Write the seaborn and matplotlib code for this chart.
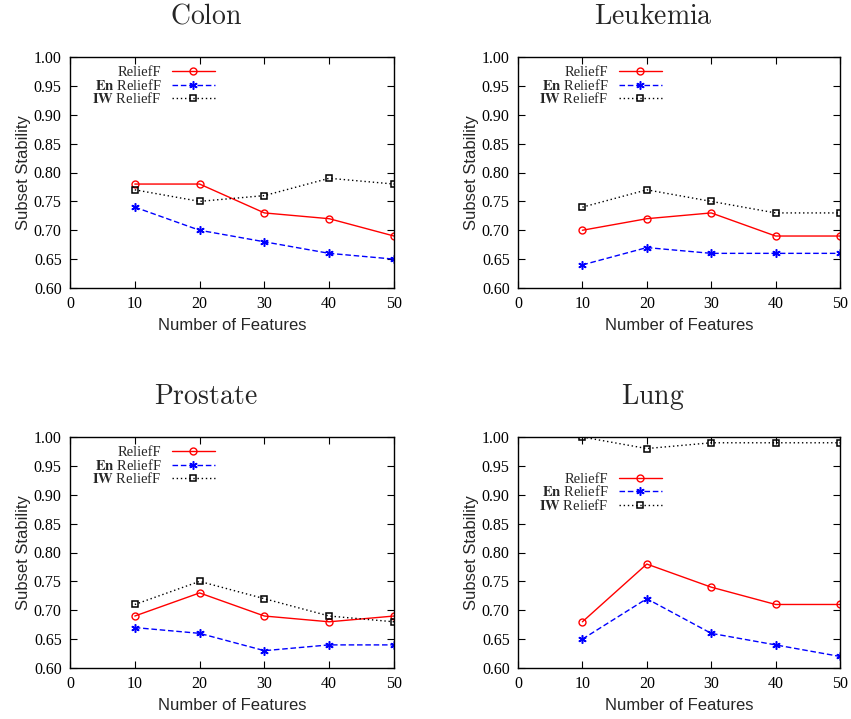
import numpy as np
import pandas as pd
import seaborn as sns
import matplotlib
matplotlib.use("Agg")
import matplotlib.pyplot as plt

features = [10, 20, 30, 40, 50]
datasets = ["Colon", "Leukemia", "Prostate", "Lung"]

colon_relieff = [0.78, 0.78, 0.73, 0.72, 0.69]
colon_en = [0.74, 0.70, 0.68, 0.66, 0.65]
colon_iw = [0.77, 0.75, 0.76, 0.79, 0.78]

leukemia_relieff = [0.70, 0.72, 0.73, 0.69, 0.69]
leukemia_en = [0.64, 0.67, 0.66, 0.66, 0.66]
leukemia_iw = [0.74, 0.77, 0.75, 0.73, 0.73]

prostate_relieff = [0.69, 0.73, 0.69, 0.68, 0.69]
prostate_en = [0.67, 0.66, 0.63, 0.64, 0.64]
prostate_iw = [0.71, 0.75, 0.72, 0.69, 0.68]

lung_relieff = [0.68, 0.78, 0.74, 0.71, 0.71]
lung_en = [0.65, 0.72, 0.66, 0.64, 0.62]
lung_iw = [1.00, 0.98, 0.99, 0.99, 0.99]

series_labels = ["ReliefF", r"$\mathbf{En}$ ReliefF", r"$\mathbf{IW}$ ReliefF"]
x_ticks = [0, 10, 20, 30, 40, 50]
y_ticks = [0.60, 0.65, 0.70, 0.75, 0.80, 0.85, 0.90, 0.95, 1.00]

all_values = {
    "Colon": [colon_relieff, colon_en, colon_iw],
    "Leukemia": [leukemia_relieff, leukemia_en, leukemia_iw],
    "Prostate": [prostate_relieff, prostate_en, prostate_iw],
    "Lung": [lung_relieff, lung_en, lung_iw],
}

sns.set_style("ticks")
plt.rcParams["font.family"] = ["Liberation Sans", "DejaVu Sans"]
plt.rcParams["mathtext.fontset"] = "stix"

SERIF = ["Liberation Serif", "DejaVu Serif"]

styles = [
    dict(color="#ff0000", linestyle="-", marker="o", markersize=5, markerfacecolor="none",
         markeredgecolor="#ff0000", markeredgewidth=1.0),
    dict(color="#0000ff", linestyle=(0, (4, 2)), marker=(6, 2, 0), markersize=6,
         markeredgecolor="#0000ff", markeredgewidth=1.1),
    dict(color="#000000", linestyle=(0, (1, 2)), marker="s", markersize=5, markerfacecolor="none",
         markeredgecolor="#000000", markeredgewidth=1.1),
]

fig = plt.figure(figsize=(8.51, 7.19), dpi=100)
W, H = 851, 719
positions = {
    "Colon": (70, 57, 324, 231),
    "Leukemia": (518, 57, 322, 231),
    "Prostate": (70, 437, 324, 231),
    "Lung": (518, 437, 322, 231),
}
title_pos = {
    "Colon": (206, 24),
    "Leukemia": (653, 24),
    "Prostate": (206, 404),
    "Lung": (653, 404),
}
legend_anchor = {
    "Colon": (0.48, 1.005),
    "Leukemia": (0.48, 1.005),
    "Prostate": (0.48, 1.005),
    "Lung": (0.48, 0.89),
}

for name in datasets:
    x0, y0, w, h = positions[name]
    ax = fig.add_axes([x0 / W, (H - y0 - h) / H, w / W, h / H])
    handles = []
    for vals, lab, st in zip(all_values[name], series_labels, styles):
        df = pd.DataFrame({"Features": features, "Stability": vals})
        sns.lineplot(data=df, x="Features", y="Stability", ax=ax, lw=1.0, **st)
        handles.append(ax.lines[-1])
    ax.set_xlim(0, 50)
    ax.set_ylim(0.60, 1.00)
    ax.set_xticks(x_ticks)
    ax.set_yticks(y_ticks)
    ax.set_xticklabels([str(v) for v in x_ticks])
    ax.set_yticklabels([f"{v:.2f}" for v in y_ticks])
    ax.tick_params(direction="in", top=True, right=True, length=5, width=0.8,
                   colors="black", pad=6, labelsize=11.5)
    for lbl in ax.get_xticklabels() + ax.get_yticklabels():
        lbl.set_fontfamily(SERIF)
    for sp in ax.spines.values():
        sp.set_visible(True)
        sp.set_linewidth(1.0)
        sp.set_color("black")
    ax.set_xlabel("Number of Features", fontsize=12, labelpad=4)
    ax.set_ylabel("Subset Stability", fontsize=12, labelpad=2)
    tx, ty = title_pos[name]
    fig.text(tx / W, 1 - ty / H, r"$\mathrm{" + name + "}$", ha="center", va="baseline",
             fontsize=20, math_fontfamily="cm")
    ax.legend(handles, series_labels, loc="upper right", bbox_to_anchor=legend_anchor[name],
              frameon=False, markerfirst=False, handlelength=3.0, handletextpad=0.7,
              labelspacing=-0.1, borderaxespad=0.3,
              prop={"family": SERIF, "size": 10.5})
    ax.grid(False)

fig.savefig("out.png", dpi=100)
